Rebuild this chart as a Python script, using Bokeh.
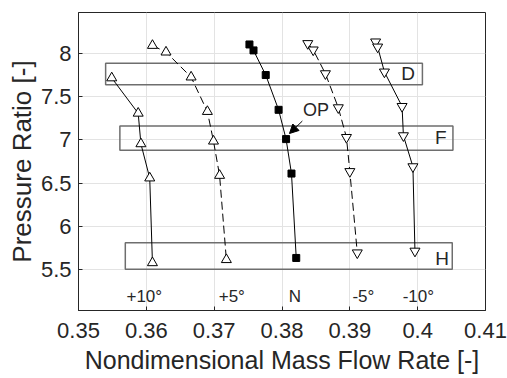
from bokeh.plotting import figure
from bokeh.models import Arrow, NormalHead, Range1d, FixedTicker, Label
from bokeh.embed import file_html
from bokeh.resources import INLINE

# ---- data ----
x_p10 = [0.3549, 0.3588, 0.3592, 0.3605, 0.3609]
y_p10 = [7.72, 7.31, 6.955, 6.558, 5.574]

x_p5 = [0.3609, 0.3629, 0.3666, 0.3690, 0.3699, 0.3708, 0.3718]
y_p5 = [8.097, 8.02, 7.73, 7.33, 6.986, 6.588, 5.61]

x_n = [0.3752, 0.3758, 0.3776, 0.3795, 0.3806, 0.3814, 0.3821]
y_n = [8.109, 8.04, 7.754, 7.35, 7.01, 6.61, 5.63]

x_m5 = [0.3838, 0.3846, 0.3864, 0.3883, 0.3895, 0.3900, 0.3911]
y_m5 = [8.12, 8.046, 7.77, 7.375, 7.03, 6.634, 5.69]

x_m10 = [0.3938, 0.3941, 0.3951, 0.3977, 0.3979, 0.3993, 0.3996]
y_m10 = [8.139, 8.08, 7.79, 7.39, 7.05, 6.69, 5.71]

box_names = ["D", "F", "H"]
box_left = [0.3540, 0.3561, 0.3569]
box_right = [0.4007, 0.4052, 0.4051]
box_bottom = [7.64, 6.88, 5.50]
box_top = [7.89, 7.163, 5.806]
box_label_x = [0.3986, 0.4034, 0.4036]
box_label_y = [7.769, 7.028, 5.62]

series_labels = ["+10°", "+5°", "N", "-5°", "-10°"]
series_label_x = [0.3597, 0.3726, 0.3819, 0.3920, 0.4001]
series_label_y = [5.18, 5.18, 5.18, 5.18, 5.18]

op_text = "OP"
op_text_x = 0.3850
op_text_y = 7.345
op_arrow_start = (0.3830, 7.22)
op_arrow_end = (0.3811, 7.075)

x_ticks = [0.35, 0.36, 0.37, 0.38, 0.39, 0.40, 0.41]
x_tick_labels = ["0.35", "0.36", "0.37", "0.38", "0.39", "0.4", "0.41"]
y_ticks = [5.5, 6.0, 6.5, 7.0, 7.5, 8.0]
y_tick_labels = ["5.5", "6", "6.5", "7", "7.5", "8"]

FONT = "Liberation Sans"
TXT = "#262626"

p = figure(width=507, height=378, output_backend="svg", toolbar_location=None,
           x_range=Range1d(0.35, 0.41), y_range=Range1d(5.02, 8.48),
           min_border_left=78, min_border_right=22, min_border_top=12, min_border_bottom=68)
p.background_fill_color = "white"
p.border_fill_color = "white"
p.outline_line_color = "#262626"
p.outline_line_width = 1

p.xaxis.ticker = FixedTicker(ticks=x_ticks)
p.yaxis.ticker = FixedTicker(ticks=y_ticks)
p.xaxis.major_label_overrides = {t: l for t, l in zip(x_ticks, x_tick_labels)}
p.yaxis.major_label_overrides = {t: l for t, l in zip(y_ticks, y_tick_labels)}
for ax in (p.xaxis, p.yaxis):
    ax.major_label_text_font = FONT
    ax.major_label_text_font_size = "22px"
    ax.major_label_text_color = TXT
    ax.axis_label_text_font = FONT
    ax.axis_label_text_font_style = "normal"
    ax.axis_label_text_color = TXT
    ax.axis_line_color = "#262626"
    ax.major_tick_line_color = "#262626"
    ax.major_tick_in = 4
    ax.major_tick_out = 0
    ax.minor_tick_line_color = None
p.xaxis.axis_label = "Nondimensional Mass Flow Rate [-]"
p.yaxis.axis_label = "Pressure Ratio [-]"
p.xaxis.axis_label_text_font_size = "25px"
p.yaxis.axis_label_text_font_size = "26px"
p.xaxis.major_label_standoff = 12
p.yaxis.major_label_standoff = 7
p.xaxis.axis_label_standoff = 5
p.yaxis.axis_label_standoff = 1

p.xgrid.grid_line_color = "#e3e3e3"
p.ygrid.grid_line_color = "#e3e3e3"
p.xgrid.ticker = FixedTicker(ticks=x_ticks)
p.ygrid.ticker = FixedTicker(ticks=y_ticks)

# boxes
p.quad(left=box_left, right=box_right, bottom=box_bottom, top=box_top,
       fill_color=None, line_color="#6e6e6e", line_width=1.5)
p.text(x=box_label_x, y=box_label_y, text=box_names, text_align="center",
       text_baseline="middle", text_font_size="19px", text_color=TXT,
       text_font={"value": FONT})

# series
p.line(x_p10, y_p10, line_color="black", line_width=1)
p.scatter(x_p10, y_p10, marker="triangle", size=10, fill_color="white", line_color="black")

p.line(x_p5, y_p5, line_color="black", line_width=1, line_dash="8 4")
p.scatter(x_p5, y_p5, marker="triangle", size=10, fill_color="white", line_color="black")

p.line(x_n, y_n, line_color="black", line_width=1)
p.scatter(x_n, y_n, marker="square", size=7, fill_color="black", line_color="black")

p.line(x_m5, y_m5, line_color="black", line_width=1, line_dash="8 4")
p.scatter(x_m5, y_m5, marker="inverted_triangle", size=10, fill_color="white", line_color="black")

p.line(x_m10, y_m10, line_color="black", line_width=1)
p.scatter(x_m10, y_m10, marker="inverted_triangle", size=10, fill_color="white", line_color="black")

p.text(x=series_label_x, y=series_label_y, text=series_labels, text_align="center",
       text_baseline="middle", text_font_size="17px", text_color=TXT,
       text_font={"value": FONT})

p.add_layout(Label(x=op_text_x, y=op_text_y, text=op_text, text_align="center",
                   text_baseline="middle", text_font_size="18px", text_color=TXT,
                   text_font=FONT))
p.add_layout(Arrow(x_start=op_arrow_start[0], y_start=op_arrow_start[1],
                   x_end=op_arrow_end[0], y_end=op_arrow_end[1],
                   line_color="black", line_width=1,
                   end=NormalHead(size=9, fill_color="black", line_color="black")))

open("out.html", "w").write(file_html(p, INLINE))
